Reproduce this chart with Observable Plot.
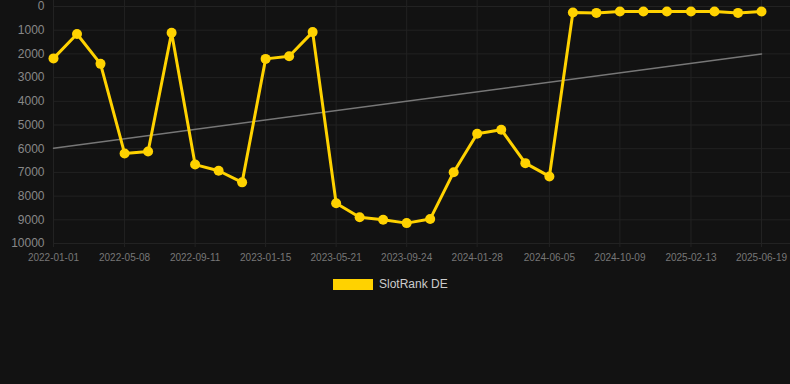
<!DOCTYPE html>
<html>
<head>
<meta charset="utf-8">
<script src="https://cdn.jsdelivr.net/npm/d3@7"></script>
<script src="https://cdn.jsdelivr.net/npm/@observablehq/plot@0.6"></script>
<style>
  html, body { margin: 0; padding: 0; background: #121212; }
  body { width: 790px; height: 384px; overflow: hidden; font-family: "Liberation Sans", Arial, sans-serif; }
  #legend { display: flex; justify-content: flex-start; align-items: center; height: 22px; margin-top: 5px; padding-left: 333px; }
  #legend .sw { width: 40px; height: 11px; background: #ffd200; margin-right: 6px; }
  #legend span { color: #cccccc; font-size: 12px; }
</style>
</head>
<body>
<div id="chart"></div>
<div id="legend"><div class="sw"></div><span>SlotRank DE</span></div>
<script>
const dates = [
  "2022-01-01","2022-02-12","2022-03-26","2022-05-08","2022-06-19","2022-07-31",
  "2022-09-11","2022-10-23","2022-12-04","2023-01-15","2023-02-26","2023-04-09",
  "2023-05-21","2023-07-02","2023-08-13","2023-09-24","2023-11-05","2023-12-17",
  "2024-01-28","2024-03-11","2024-04-23","2024-06-05","2024-07-17","2024-08-28",
  "2024-10-09","2024-11-20","2025-01-01","2025-02-13","2025-03-27","2025-05-08",
  "2025-06-19"
];
const ranks = [
  2190, 1160, 2420, 6200, 6120, 1110,
  6670, 6930, 7420, 2210, 2100, 1080,
  8300, 8890, 9000, 9140, 8970, 6990,
  5370, 5200, 6610, 7170, 250, 270,
  210, 210, 210, 210, 210, 270,
  210
];
const trendDates = ["2022-01-01", "2025-06-19"];
const trendValues = [5980, 2000];
const xTickLabels = ["2022-01-01","2022-05-08","2022-09-11","2023-01-15","2023-05-21","2023-09-24","2024-01-28","2024-06-05","2024-10-09","2025-02-13","2025-06-19"];
const yTickLabels = [0, 1000, 2000, 3000, 4000, 5000, 6000, 7000, 8000, 9000, 10000];
const seriesName = "SlotRank DE";

const parse = d3.utcParse("%Y-%m-%d");
const data = dates.map((d, i) => ({date: parse(d), rank: ranks[i], series: seriesName}));
const trend = trendDates.map((d, i) => ({date: parse(d), rank: trendValues[i]}));

const chart = Plot.plot({
  width: 790,
  height: 268,
  marginLeft: 53,
  marginRight: 0,
  insetRight: 29,
  marginTop: 0,
  insetTop: 6,
  marginBottom: 25,
  style: {background: "#121212", color: "#888", fontFamily: "Liberation Sans, Arial, sans-serif"},
  x: {type: "utc", domain: [parse(xTickLabels[0]), parse(xTickLabels[xTickLabels.length - 1])]},
  y: {domain: [0, 10000], reverse: true},
  marks: [
    Plot.gridY(yTickLabels, {stroke: "#222", strokeOpacity: 1}),
    Plot.gridX(xTickLabels.map(parse), {stroke: "#222", strokeOpacity: 1}),
    Plot.axisY(yTickLabels, {tickSize: 0, tickPadding: 9, fontSize: 12, fill: "#888", tickFormat: d => String(d), label: null}),
    Plot.axisX(xTickLabels.map(parse), {tickSize: 4, stroke: "#222", tickPadding: 6, fontSize: 10, fill: "#777", tickFormat: d3.utcFormat("%Y-%m-%d"), label: null}),
    Plot.line(trend, {x: "date", y: "rank", stroke: "#777", strokeWidth: 1.5}),
    Plot.line(data, {x: "date", y: "rank", stroke: "#ffd200", strokeWidth: 3, curve: "linear"}),
    Plot.dot(data, {x: "date", y: "rank", r: 5, fill: "#ffd200", stroke: "none"})
  ]
});
document.getElementById("chart").appendChild(chart);
</script>
</body>
</html>
